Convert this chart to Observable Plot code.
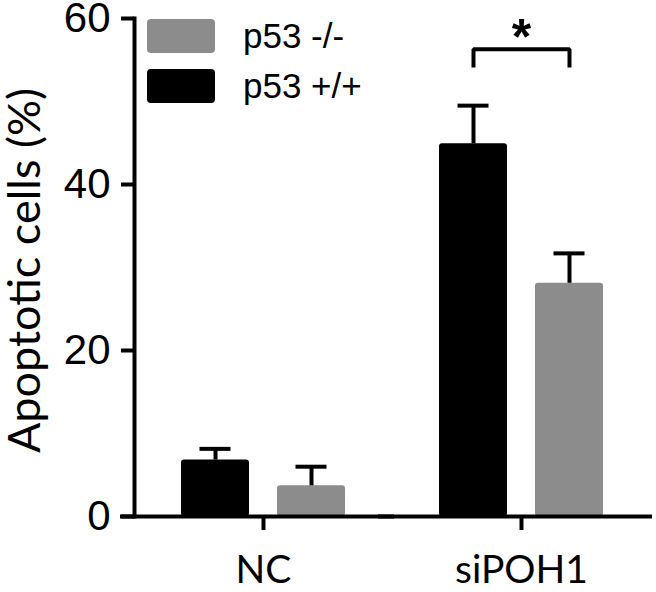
<!DOCTYPE html>
<html>
<head>
<meta charset="utf-8">
<script src="https://cdn.jsdelivr.net/npm/d3@7"></script>
<script src="https://cdn.jsdelivr.net/npm/@observablehq/plot@0.6"></script>
<style>
  html, body { margin: 0; padding: 0; background: white; }
  #wrap { position: relative; width: 656px; height: 592px; }
  #legend { position: absolute; left: 147px; top: 19px; font-family: "Liberation Sans", Arial, sans-serif; font-size: 35px; color: #000; }
  .item { display: flex; align-items: center; height: 34px; margin-bottom: 16px; }
  .sw { width: 68px; height: 34px; border-radius: 4px; margin-right: 28px; }
</style>
</head>
<body>
<div id="wrap"><div id="legend"></div></div>
<script>
// ---- data ----
const groups = ["NC", "siPOH1"];
const series = ["p53 +/+", "p53 -/-"];
const colors = ["#000000", "#8c8c8c"];
const wtValues = [6.8, 44.9];   // p53 +/+
const wtErrors = [1.35, 4.6];
const koValues = [3.7, 28.1];   // p53 -/-
const koErrors = [2.3, 3.6];
const legendOrder = ["p53 -/-", "p53 +/+"];
const yTicks = [0, 20, 40, 60];
const yLabel = "Apoptotic cells (%)";
const sigGroup = "siPOH1";
const sigBracketY = 56.3;
const sigLegY = 54.1;
const sigStarY = 57.6;
const sigText = "*";

// ---- build table ----
const rows = [];
groups.forEach((g, i) => {
  rows.push({group: g, series: series[0], value: wtValues[i], err: wtErrors[i]});
  rows.push({group: g, series: series[1], value: koValues[i], err: koErrors[i]});
});
rows.forEach(d => d.upper = d.value + d.err);

const bracket = [
  {group: sigGroup, series: series[0], y: sigLegY},
  {group: sigGroup, series: series[0], y: sigBracketY},
  {group: sigGroup, series: series[1], y: sigBracketY},
  {group: sigGroup, series: series[1], y: sigLegY}
];

const chart = Plot.plot({
  width: 656,
  height: 592,
  marginTop: 18,
  marginBottom: 76,
  marginLeft: 134,
  marginRight: 6,
  style: {background: "white", color: "black", overflow: "visible"},
  fx: {domain: groups, padding: 0, axis: null},
  x: {domain: series, paddingInner: 0.2917, paddingOuter: 0.4896, axis: null},
  y: {domain: [0, 60], axis: null},
  color: {domain: series, range: colors},
  marks: [
    Plot.barY(rows, {fx: "group", x: "series", y: "value", fill: "series", rx: 3}),
    Plot.ruleX(rows, {fx: "group", x: "series", y1: "value", y2: "upper", stroke: "black", strokeWidth: 4}),
    Plot.tickY(rows, {fx: "group", x: "series", y: "upper", stroke: "black", strokeWidth: 4, insetLeft: 18.5, insetRight: 18.5}),
    Plot.ruleY([0], {stroke: "black", strokeWidth: 4, insetLeft: -14, insetRight: -2}),
    Plot.frame({anchor: "left", facetAnchor: "left", stroke: "black", strokeWidth: 4}),
    Plot.axisY({ticks: yTicks, tickSize: 13, tickPadding: 11, strokeWidth: 4, fontSize: 42,
      fontFamily: "Liberation Sans", label: null, tickFormat: d => String(d)}),
    Plot.axisFx({anchor: "bottom", tickSize: 14, tickPadding: 25, strokeWidth: 4, fontSize: 39,
      fontFamily: "Lato", label: null}),
    Plot.text([groups[0]], {fx: d => d, text: () => yLabel, frameAnchor: "left", textAnchor: "middle",
      rotate: -90, dx: -109, dy: 3, fontSize: 45, fontFamily: "Lato", fill: "black"}),
    Plot.line(bracket, {fx: "group", x: "series", y: "y", stroke: "black", strokeWidth: 4,
      strokeLinejoin: "miter", strokeLinecap: "butt"}),
    Plot.text([sigGroup], {fx: d => d, x: () => series[1], y: () => sigStarY, text: () => sigText,
      dx: -48, fontSize: 50, fontWeight: "bold", fontFamily: "Liberation Sans", fill: "black"})
  ]
});
document.getElementById("wrap").prepend(chart);

// ---- legend ----
const legend = document.getElementById("legend");
legendOrder.forEach(s => {
  const item = document.createElement("div");
  item.className = "item";
  const sw = document.createElement("div");
  sw.className = "sw";
  sw.style.background = colors[series.indexOf(s)];
  const lab = document.createElement("span");
  lab.textContent = s;
  item.appendChild(sw);
  item.appendChild(lab);
  legend.appendChild(item);
});
</script>
</body>
</html>
